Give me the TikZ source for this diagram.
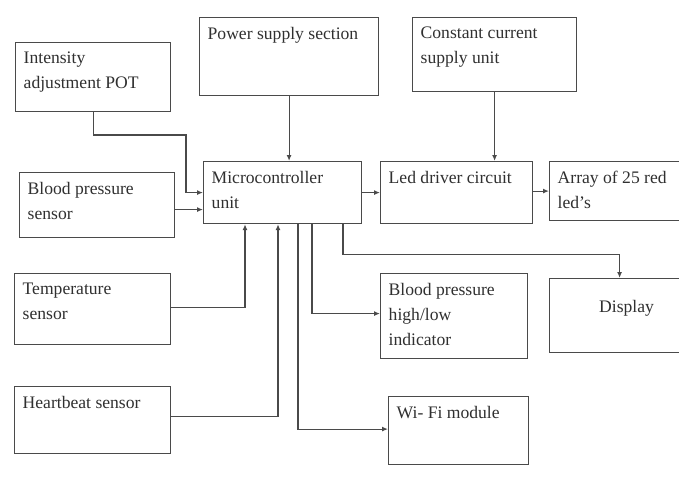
\documentclass[tikz,border=0pt]{standalone}
\usepackage{fontspec}
\setmainfont{Liberation Serif}
\usetikzlibrary{arrows.meta}
\definecolor{ln}{HTML}{4A4A4A}
\definecolor{tx}{HTML}{303030}
\tikzset{
  box/.style={draw=ln, line width=1.2pt, anchor=north west, inner sep=0pt},
  txt/.style={anchor=north west, inner sep=0pt, align=left, xshift=8.5pt, yshift=-10pt,
              text=tx, font=\fontsize{17.6}{25}\selectfont},
  conn/.style={draw=ln, line width=1.2pt, -{Latex[length=6pt,width=5pt]}},
}
\begin{document}
\begin{tikzpicture}[x=1pt,y=-1pt]
\useasboundingbox (0,0) rectangle (679,476);
\fill[white] (0,0) rectangle (679,476);

% boxes
\node[box, minimum width=155, minimum height=69,
  label={[txt]north west:Intensity\\adjustment POT}] (int) at (15,42) {};
\node[box, minimum width=179, minimum height=78,
  label={[txt]north west:Power supply section}] (pow) at (199,17) {};
\node[box, minimum width=164, minimum height=74,
  label={[txt]north west:Constant current\\supply unit}] (cc) at (412,17) {};
\node[box, minimum width=155, minimum height=65,
  label={[txt]north west:Blood pressure\\sensor}] (bps) at (19,172) {};
\node[box, minimum width=158, minimum height=62,
  label={[txt]north west:Microcontroller\\unit}] (mcu) at (203,161) {};
\node[box, minimum width=152, minimum height=62,
  label={[txt]north west:Led driver circuit}] (led) at (380,161) {};
\node[box, minimum width=134, minimum height=59,
  label={[txt]north west:Array of 25 red\\led’s}] (arr) at (549,161) {};
\node[box, minimum width=156, minimum height=71,
  label={[txt]north west:Temperature\\sensor}] (temp) at (14,273) {};
\node[box, minimum width=156, minimum height=67,
  label={[txt]north west:Heartbeat sensor}] (hb) at (14,386) {};
\node[box, minimum width=147, minimum height=85,
  label={[txt]north west:Blood pressure\\high/low\\indicator}] (bpi) at (380,273) {};
\node[box, minimum width=134, minimum height=74,
  label={[txt, anchor=north, xshift=0pt, yshift=-12pt]north:\hspace*{3pt}Display}] (disp) at (549,278) {};
\node[box, minimum width=140, minimum height=68,
  label={[txt]north west:Wi- Fi module}] (wifi) at (388,396) {};

% connectors
\draw[conn] (int.south) |- (186,135) |- (mcu.west);
\draw[conn] ([yshift=-4.5pt]bps.east) -- ([yshift=-4.5pt]bps.east -| mcu.west);
\draw[conn] (pow.south) -- (pow.south |- mcu.north);
\draw[conn] (cc.south) -- (cc.south |- led.north);
\draw[conn] (mcu.east) -- (led.west);
\draw[conn] ([yshift=1.5pt]led.east) -- ([yshift=1.5pt]led.east -| arr.west);
\draw[conn] ([yshift=1.5pt]temp.east) -| ([xshift=42pt]mcu.south west);
\draw[conn] ([yshift=3.5pt]hb.east) -| ([xshift=75pt]mcu.south west);
\draw[conn] ([xshift=95pt]mcu.south west) |- ([yshift=1.5pt]wifi.west);
\draw[conn] ([xshift=109pt]mcu.south west) |- ([yshift=2.5pt]bpi.west);
\draw[conn] ([xshift=140pt]mcu.south west) -- ++(0,30) -| ([xshift=3pt]disp.north);
\end{tikzpicture}
\end{document}
